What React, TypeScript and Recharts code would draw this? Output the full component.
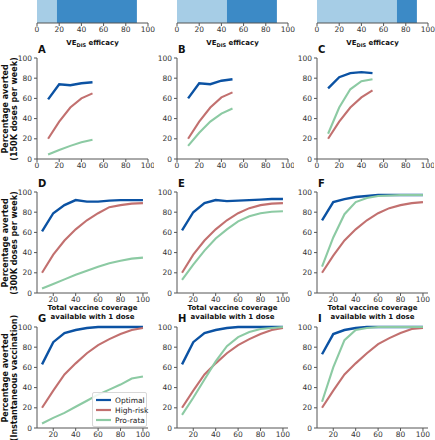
import React from 'react';
import { LineChart, Line, XAxis, YAxis, Legend, BarChart, Bar } from 'recharts';

const FONT = '"DejaVu Sans", Verdana, sans-serif';

// x values
const earlyCoverage = [10, 20, 30, 40, 50];
const fullCoverage = [10, 20, 30, 40, 50, 60, 70, 80, 90, 100];

// VE_DIS bars (top)
const vedisThresholds = [18, 45, 72];
const vedisMax = 90;

// row 1 - 150K doses per week
const optimalA = [59, 74, 73, 75, 76];
const highRiskA = [20, 37, 51, 60, 65];
const proRataA = [4.5, 9, 13, 16.5, 19];

const optimalB = [60, 75, 74, 77.5, 79];
const highRiskB = [20, 37, 51, 61, 66];
const proRataB = [13, 26, 37, 45, 50];

const optimalC = [70, 81, 85, 86, 85];
const highRiskC = [20, 37, 51, 61, 68];
const proRataC = [25, 51, 69, 77, 79];

// row 2 - 300K doses per week
const optimalD = [61, 79, 87, 92, 90.5, 90.5, 91.5, 92, 92, 92];
const highRiskD = [20, 38, 52, 63, 72, 79, 85, 87, 88.5, 89];
const proRataD = [4.5, 9, 13.5, 18, 22, 26, 29.5, 32, 34, 35];

const optimalE = [62, 80, 89, 92, 91, 91.5, 92, 92.5, 93, 93];
const highRiskE = [20, 38, 52, 63, 72, 79, 84, 87, 88.5, 89];
const proRataE = [13, 28, 42, 54, 63, 71, 76, 79, 80.5, 81];

const optimalF = [72, 90, 93, 95, 96, 97, 97, 97, 97, 97];
const highRiskF = [20, 37, 52, 63, 72, 79, 84, 87, 89, 90];
const proRataF = [26, 55, 78, 90, 94, 96, 96.5, 97, 97, 97];

// row 3 - instantaneous vaccination
const optimalG = [63, 85, 94, 97, 99, 100, 100, 100, 100, 100];
const highRiskG = [20, 37, 53, 64, 74, 82, 88, 93, 97, 99];
const proRataG = [4.5, 10, 15, 21, 27, 33, 38, 43, 49, 51];

const optimalH = [63, 85, 94, 97, 99, 100, 100, 100, 100, 100];
const highRiskH = [20, 37, 53, 64, 74, 82, 88, 93, 97, 99];
const proRataH = [13, 30, 48, 66, 81, 90, 95, 98, 99, 100];

const optimalI = [73, 93, 97, 99, 100, 100, 100, 100, 100, 100];
const highRiskI = [20, 37, 53, 64, 74, 83, 89, 94, 98, 99];
const proRataI = [26, 60, 87, 97, 99, 100, 100, 100, 100, 100];

const seriesKeys = ['optimal', 'highRisk', 'proRata'];
const seriesNames = ['Optimal', 'High-risk', 'Pro-rata'];
const seriesColors = ['#0b52a3', '#c2706f', '#8ccaa3'];

const pctTicks = [0, 20, 40, 60, 80, 100];
const earlyTicks = [0, 20, 40, 60, 80, 100];
const fullTicks = [20, 40, 60, 80, 100];

const colLefts = [37, 177, 317];
const rowTops = [58, 192, 327];
const PW = 111;
const PH = 101;

const tickStyle = { fontSize: 7.5, fill: '#333', fontFamily: FONT };

function LegendBox({ payload }: { payload?: any[] }) {
  const items = [...(payload || [])].sort(
    (a, b) => seriesKeys.indexOf(a.dataKey) - seriesKeys.indexOf(b.dataKey)
  );
  return (
    <div
      style={{
        width: 55,
        boxSizing: 'border-box',
        border: '1px solid #d8d8d8',
        borderRadius: 2,
        background: 'rgba(255,255,255,0.85)',
        padding: '2px 2px 1px 3px',
        fontFamily: FONT,
        fontSize: 7.5,
        color: '#222',
        whiteSpace: 'nowrap',
      }}
    >
      {items.map((it) => (
        <div key={it.dataKey} style={{ display: 'flex', alignItems: 'center', height: 10 }}>
          <svg width={15} height={4} style={{ marginRight: 4, flexShrink: 0 }}>
            <line x1={0} y1={2} x2={15} y2={2} stroke={it.color} strokeWidth={2.2} />
          </svg>
          <span>{it.value}</span>
        </div>
      ))}
    </div>
  );
}

type PanelProps = {
  col: number;
  row: number;
  letter: string;
  x: number[];
  optimal: number[];
  highRisk: number[];
  proRata: number[];
  legend?: boolean;
};

function Panel({ col, row, letter, x, optimal, highRisk, proRata, legend }: PanelProps) {
  const left = colLefts[col];
  const top = rowTops[row];
  const early = row === 0;
  const domain: [number, number] = early ? [0, 100] : [5.5, 104.5];
  const ticks = early ? earlyTicks : fullTicks;
  const data = x.map((v, i) => ({ x: v, optimal: optimal[i], highRisk: highRisk[i], proRata: proRata[i] }));
  return (
    <>
      <div style={{ position: 'absolute', left: left - 30, top: top - 6 }}>
        <LineChart width={30 + PW + 6} height={6 + PH + 14} data={data} margin={{ top: 6, right: 6, left: 0, bottom: 0 }}>
          <XAxis
            dataKey="x"
            type="number"
            domain={domain}
            ticks={ticks}
            height={14}
            tick={tickStyle}
            tickSize={3}
            tickMargin={1}
            axisLine={{ stroke: '#555' }}
            tickLine={{ stroke: '#555' }}
            interval={0}
          />
          <YAxis
            type="number"
            domain={[0, 100]}
            ticks={pctTicks}
            width={30}
            tick={tickStyle}
            tickSize={3}
            tickMargin={2}
            axisLine={{ stroke: '#555' }}
            tickLine={{ stroke: '#555' }}
            interval={0}
          />
          <XAxis xAxisId="top" orientation="top" type="number" domain={domain} height={0} tick={false} tickLine={false} axisLine={{ stroke: '#9a9a9a', strokeWidth: 1.5 }} />
          <YAxis yAxisId="right" orientation="right" type="number" domain={[0, 100]} width={0} tick={false} tickLine={false} axisLine={{ stroke: '#9a9a9a', strokeWidth: 1.5 }} />
          {seriesKeys.map((k, i) => (
            <Line
              key={k}
              dataKey={k}
              name={seriesNames[i]}
              type="linear"
              stroke={seriesColors[i]}
              strokeWidth={k === 'optimal' ? 2.4 : 2.1}
              dot={false}
              isAnimationActive={false}
            />
          ))}
          {legend && (
            <Legend
              layout="vertical"
              align="center"
              verticalAlign="middle"
              wrapperStyle={{ left: 85, top: 71, right: 'auto', bottom: 'auto', width: 56 }}
              content={(p: any) => <LegendBox payload={p.payload} />}
            />
          )}
        </LineChart>
      </div>
      <div
        style={{
          position: 'absolute',
          left: left + 1,
          top: top - 13,
          fontFamily: FONT,
          fontWeight: 'bold',
          fontSize: 10,
          lineHeight: '10px',
          color: '#111',
        }}
      >
        {letter}
      </div>
    </>
  );
}

function VedisBar({ col }: { col: number }) {
  const left = colLefts[col];
  const data = [{ name: 'VE', low: vedisThresholds[col], high: vedisMax - vedisThresholds[col] }];
  return (
    <>
      <div style={{ position: 'absolute', left: left - 10, top: 0 }}>
        <BarChart width={PW + 20} height={23 + 14} data={data} layout="vertical" barCategoryGap={0} margin={{ top: 0, right: 10, left: 10, bottom: 0 }}>
          <XAxis
            type="number"
            domain={[0, 100]}
            ticks={earlyTicks}
            height={14}
            tick={tickStyle}
            tickSize={3}
            tickMargin={1}
            axisLine={{ stroke: '#555' }}
            tickLine={{ stroke: '#555' }}
            interval={0}
          />
          <YAxis type="category" dataKey="name" hide width={0} />
          <Bar dataKey="low" stackId="v" fill="#a6cde6" isAnimationActive={false} />
          <Bar dataKey="high" stackId="v" fill="#3c8ac6" isAnimationActive={false} />
        </BarChart>
      </div>
      <div
        style={{
          position: 'absolute',
          left: left,
          width: PW,
          top: 39,
          textAlign: 'center',
          fontFamily: FONT,
          fontWeight: 'bold',
          fontSize: 7,
          color: '#111',
        }}
      >
        VE<sub style={{ fontSize: 5 }}>DIS</sub> efficacy
      </div>
    </>
  );
}

const yLabels = ['(150K doses per week)', '(300K doses per week)', '(Instantaneous vaccination)'];

function YLabel({ row }: { row: number }) {
  const cy = rowTops[row] + PH / 2;
  const base = {
    position: 'absolute' as const,
    transform: 'translate(-50%, -50%) rotate(-90deg)',
    whiteSpace: 'nowrap' as const,
    fontFamily: FONT,
    fontWeight: 'bold' as const,
    fontSize: 8,
    lineHeight: '9px',
    color: '#111',
  };
  return (
    <>
      <div style={{ ...base, left: 5, top: cy }}>Percentage averted</div>
      <div style={{ ...base, left: 14, top: cy }}>{yLabels[row]}</div>
    </>
  );
}

function XLabel({ col }: { col: number }) {
  return (
    <div
      style={{
        position: 'absolute',
        left: colLefts[col] - 20,
        width: PW + 40,
        top: 304,
        textAlign: 'center',
        fontFamily: FONT,
        fontWeight: 'bold',
        fontSize: 7,
        lineHeight: '9px',
        color: '#111',
      }}
    >
      Total vaccine coverage
      <br />
      available with 1 dose
    </div>
  );
}

export default function App() {
  return (
    <div style={{ position: 'absolute', left: 0, top: 0, width: 435, height: 440, background: '#fff', overflow: 'hidden' }}>
      {[0, 1, 2].map((c) => (
        <VedisBar key={c} col={c} />
      ))}
      {[0, 1, 2].map((r) => (
        <YLabel key={r} row={r} />
      ))}
      {[0, 1, 2].map((c) => (
        <XLabel key={c} col={c} />
      ))}
      <Panel col={0} row={0} letter="A" x={earlyCoverage} optimal={optimalA} highRisk={highRiskA} proRata={proRataA} />
      <Panel col={1} row={0} letter="B" x={earlyCoverage} optimal={optimalB} highRisk={highRiskB} proRata={proRataB} />
      <Panel col={2} row={0} letter="C" x={earlyCoverage} optimal={optimalC} highRisk={highRiskC} proRata={proRataC} />
      <Panel col={0} row={1} letter="D" x={fullCoverage} optimal={optimalD} highRisk={highRiskD} proRata={proRataD} />
      <Panel col={1} row={1} letter="E" x={fullCoverage} optimal={optimalE} highRisk={highRiskE} proRata={proRataE} />
      <Panel col={2} row={1} letter="F" x={fullCoverage} optimal={optimalF} highRisk={highRiskF} proRata={proRataF} />
      <Panel col={0} row={2} letter="G" x={fullCoverage} optimal={optimalG} highRisk={highRiskG} proRata={proRataG} legend />
      <Panel col={1} row={2} letter="H" x={fullCoverage} optimal={optimalH} highRisk={highRiskH} proRata={proRataH} />
      <Panel col={2} row={2} letter="I" x={fullCoverage} optimal={optimalI} highRisk={highRiskI} proRata={proRataI} />
    </div>
  );
}
